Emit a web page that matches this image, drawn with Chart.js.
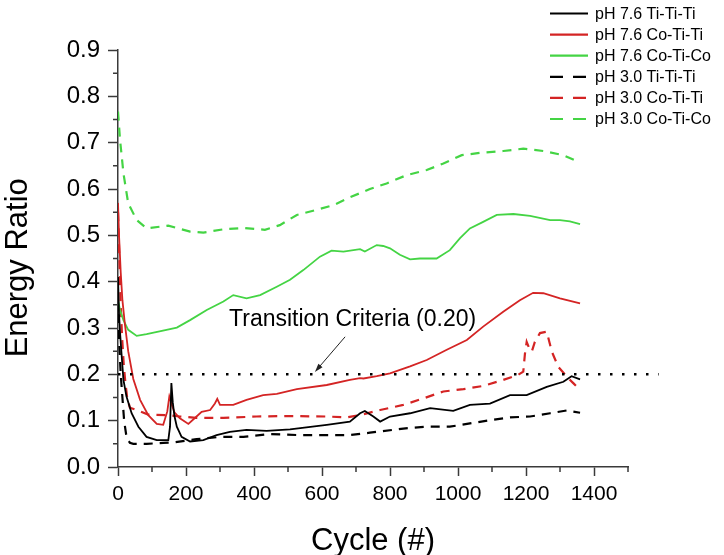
<!DOCTYPE html>
<html>
<head>
<meta charset="utf-8">
<script src="https://cdn.jsdelivr.net/npm/chart.js@4.4.1/dist/chart.umd.min.js"></script>
<style>
  html, body { margin: 0; padding: 0; background: #fff; }
</style>
</head>
<body>
<canvas id="energyChart" width="724" height="555"></canvas>
<script>
// données (cycle, rapport d'énergie)
const cycleTi76 = [0, 3, 6, 11, 16, 25, 40, 60, 84, 114, 148, 153, 157, 161, 166, 173, 187, 212, 251, 290, 329, 378, 437, 506, 614, 682, 712, 726, 751, 771, 800, 859, 918, 986, 1035, 1094, 1153, 1202, 1261, 1310, 1334, 1359];
const ratioTi76 = [0.41, 0.33, 0.29, 0.238, 0.188, 0.152, 0.116, 0.087, 0.065, 0.058, 0.058, 0.087, 0.181, 0.14, 0.11, 0.087, 0.065, 0.055, 0.058, 0.069, 0.076, 0.080, 0.078, 0.081, 0.091, 0.098, 0.116, 0.121, 0.109, 0.098, 0.109, 0.116, 0.127, 0.121, 0.134, 0.137, 0.155, 0.155, 0.173, 0.184, 0.196, 0.189];

const cycleCoTi76 = [0, 3, 8, 13, 20, 30, 45, 65, 89, 114, 133, 145, 151, 158, 166, 182, 207, 231, 246, 271, 285, 292, 300, 339, 378, 427, 467, 526, 614, 682, 712, 722, 761, 800, 859, 908, 967, 1026, 1074, 1133, 1182, 1221, 1251, 1300, 1359];
const ratioCoTi76 = [0.57, 0.50, 0.42, 0.36, 0.31, 0.25, 0.19, 0.145, 0.112, 0.093, 0.091, 0.12, 0.152, 0.135, 0.118, 0.105, 0.093, 0.109, 0.119, 0.123, 0.137, 0.147, 0.134, 0.134, 0.145, 0.155, 0.158, 0.168, 0.177, 0.188, 0.192, 0.191, 0.196, 0.202, 0.217, 0.231, 0.253, 0.274, 0.303, 0.335, 0.360, 0.376, 0.375, 0.364, 0.353];

const cycleCoCo76 = [0, 6, 16, 30, 55, 84, 129, 173, 212, 261, 310, 339, 378, 418, 467, 506, 545, 594, 628, 663, 712, 726, 761, 780, 800, 829, 859, 888, 937, 976, 1006, 1035, 1074, 1114, 1163, 1212, 1271, 1300, 1329, 1359];
const ratioCoCo76 = [0.36, 0.339, 0.317, 0.296, 0.283, 0.287, 0.294, 0.301, 0.317, 0.339, 0.357, 0.371, 0.364, 0.371, 0.389, 0.404, 0.425, 0.454, 0.467, 0.465, 0.470, 0.465, 0.479, 0.477, 0.472, 0.458, 0.448, 0.450, 0.450, 0.468, 0.494, 0.515, 0.529, 0.544, 0.546, 0.542, 0.533, 0.533, 0.530, 0.524];

const cycleTi30 = [0, 4, 8, 13, 18, 25, 35, 45, 84, 133, 163, 231, 300, 369, 447, 526, 614, 682, 741, 839, 908, 976, 1035, 1094, 1153, 1212, 1271, 1320, 1359];
const ratioTi30 = [0.33, 0.26, 0.20, 0.15, 0.10, 0.065, 0.052, 0.050, 0.050, 0.052, 0.053, 0.060, 0.065, 0.065, 0.071, 0.069, 0.069, 0.069, 0.074, 0.083, 0.087, 0.087, 0.094, 0.101, 0.107, 0.109, 0.116, 0.122, 0.117];

const cycleCoTi30 = [0, 4, 8, 12, 17, 22, 27, 35, 55, 89, 148, 182, 231, 310, 408, 506, 614, 673, 712, 771, 839, 898, 957, 1016, 1074, 1133, 1177, 1192, 1197, 1202, 1210, 1217, 1226, 1241, 1261, 1276, 1295, 1320, 1339, 1359];
const ratioCoTi30 = [0.55, 0.45, 0.35, 0.28, 0.22, 0.18, 0.15, 0.128, 0.123, 0.113, 0.112, 0.109, 0.106, 0.106, 0.109, 0.110, 0.109, 0.107, 0.112, 0.123, 0.134, 0.148, 0.163, 0.168, 0.175, 0.188, 0.199, 0.206, 0.245, 0.270, 0.255, 0.249, 0.270, 0.289, 0.292, 0.249, 0.216, 0.195, 0.181, 0.166];

const cycleCoCo30 = [0, 6, 16, 30, 55, 84, 148, 212, 251, 310, 369, 432, 476, 526, 574, 633, 682, 741, 790, 849, 908, 957, 1011, 1065, 1133, 1192, 1251, 1310, 1359];
const ratioCoCo30 = [0.767, 0.706, 0.634, 0.569, 0.533, 0.515, 0.521, 0.508, 0.506, 0.513, 0.516, 0.512, 0.522, 0.544, 0.553, 0.565, 0.582, 0.600, 0.612, 0.630, 0.641, 0.655, 0.673, 0.678, 0.682, 0.687, 0.682, 0.673, 0.657];

const seriesLabels = ['pH 7.6 Ti-Ti-Ti', 'pH 7.6 Co-Ti-Ti', 'pH 7.6 Co-Ti-Co', 'pH 3.0 Ti-Ti-Ti', 'pH 3.0 Co-Ti-Ti', 'pH 3.0 Co-Ti-Co'];

// critère de transition
const criteriaLevel = 0.2;
const criteriaSpan = [0, 1590];
const noteText = 'Transition Criteria (0.20)';
const noteAt = [690, 0.317];
const arrowFrom = [668, 0.281];
const arrowTo = [579, 0.205];

const yTitle = 'Energy Ratio';

const black = '#000000';
const red = '#d42424';
const green = '#44d444';
const axisColor = '#3a3a3a';
const fontFamily = '"Liberation Sans", Arial, sans-serif';

Chart.defaults.font.family = fontFamily;
Chart.defaults.color = '#000';

function toPoints(xs, ys) {
    return xs.map((x, i) => ({ x: x, y: ys[i] }));
}

function series(label, xs, ys, color, dashed) {
    return {
        label: label,
        data: toPoints(xs, ys),
        borderColor: color,
        borderWidth: dashed ? 2.2 : 1.8,
        borderDash: dashed ? [9, 7] : [],
        pointRadius: 0,
        tension: 0,
        fill: false,
        isDashed: dashed
    };
}

function isMajorX(v) { return Math.round(v) % 200 === 0; }
function isMajorY(v) { return Math.round(v * 100) % 10 === 0; }

// petites graduations + titre de l'axe y
const minorTicks = {
    id: 'minorTicks',
    afterDraw(chart) {
        const ctx = chart.ctx;
        const xs = chart.scales.x, ys = chart.scales.y;
        ctx.save();
        ctx.strokeStyle = axisColor;
        ctx.lineWidth = 1.5;
        ctx.beginPath();
        xs.ticks.forEach(t => {
            if (!isMajorX(t.value)) {
                const px = xs.getPixelForValue(t.value);
                ctx.moveTo(px, xs.top);
                ctx.lineTo(px, xs.top + 5);
            }
        });
        ys.ticks.forEach(t => {
            if (!isMajorY(t.value)) {
                const py = ys.getPixelForValue(t.value);
                ctx.moveTo(ys.right, py);
                ctx.lineTo(ys.right - 5, py);
            }
        });
        ctx.stroke();

        ctx.translate(18, ys.getPixelForValue(0.43));
        ctx.rotate(-Math.PI / 2);
        ctx.font = '31px ' + fontFamily;
        ctx.fillStyle = '#000';
        ctx.textAlign = 'center';
        ctx.textBaseline = 'middle';
        ctx.fillText(yTitle, 0, 0);
        ctx.restore();
    }
};

// légende en haut à droite
const cornerLegend = {
    id: 'cornerLegend',
    afterDraw(chart) {
        const ctx = chart.ctx;
        ctx.save();
        ctx.font = '16px ' + fontFamily;
        ctx.textBaseline = 'middle';
        ctx.fillStyle = '#000';
        let row = 0;
        chart.data.datasets.forEach(ds => {
            if (!seriesLabels.includes(ds.label)) return;
            const y = 13.5 + row * 21.1;
            ctx.strokeStyle = ds.borderColor;
            ctx.lineWidth = 2.2;
            ctx.setLineDash(ds.isDashed ? [13, 10] : []);
            ctx.beginPath();
            ctx.moveTo(550, y);
            ctx.lineTo(588, y);
            ctx.stroke();
            ctx.setLineDash([]);
            ctx.fillText(ds.label, 595, y + 1);
            row++;
        });
        ctx.restore();
    }
};

// texte et flèche du critère
const criteriaNote = {
    id: 'criteriaNote',
    afterDraw(chart) {
        const ctx = chart.ctx;
        const xs = chart.scales.x, ys = chart.scales.y;
        ctx.save();
        ctx.font = '23px ' + fontFamily;
        ctx.fillStyle = '#000';
        ctx.textAlign = 'center';
        ctx.textBaseline = 'middle';
        ctx.fillText(noteText, xs.getPixelForValue(noteAt[0]), ys.getPixelForValue(noteAt[1]));

        const x1 = xs.getPixelForValue(arrowFrom[0]), y1 = ys.getPixelForValue(arrowFrom[1]);
        const x2 = xs.getPixelForValue(arrowTo[0]), y2 = ys.getPixelForValue(arrowTo[1]);
        const a = Math.atan2(y2 - y1, x2 - x1);
        ctx.strokeStyle = '#222';
        ctx.lineWidth = 1;
        ctx.beginPath();
        ctx.moveTo(x1, y1);
        ctx.lineTo(x2 - 6 * Math.cos(a), y2 - 6 * Math.sin(a));
        ctx.stroke();
        ctx.fillStyle = '#222';
        ctx.beginPath();
        ctx.moveTo(x2, y2);
        ctx.lineTo(x2 - 9 * Math.cos(a - 0.3), y2 - 9 * Math.sin(a - 0.3));
        ctx.lineTo(x2 - 9 * Math.cos(a + 0.3), y2 - 9 * Math.sin(a + 0.3));
        ctx.closePath();
        ctx.fill();
        ctx.restore();
    }
};

document.addEventListener('DOMContentLoaded', () => {
    const ctx = document.getElementById('energyChart').getContext('2d');
    new Chart(ctx, {
        type: 'line',
        data: {
            datasets: [
                {
                    label: 'criteria',
                    data: criteriaSpan.map(x => ({ x: x, y: criteriaLevel })),
                    borderColor: '#000',
                    borderWidth: 2.5,
                    borderDash: [2.5, 9.5],
                    pointRadius: 0,
                    clip: false
                },
                series(seriesLabels[0], cycleTi76, ratioTi76, black, false),
                series(seriesLabels[1], cycleCoTi76, ratioCoTi76, red, false),
                series(seriesLabels[2], cycleCoCo76, ratioCoCo76, green, false),
                series(seriesLabels[3], cycleTi30, ratioTi30, black, true),
                series(seriesLabels[4], cycleCoTi30, ratioCoTi30, red, true),
                series(seriesLabels[5], cycleCoCo30, ratioCoCo30, green, true)
            ]
        },
        options: {
            responsive: false,
            animation: false,
            layout: { padding: { top: 50, right: 96, bottom: 0, left: 0 } },
            plugins: {
                legend: { display: false },
                tooltip: { enabled: false }
            },
            scales: {
                x: {
                    type: 'linear',
                    min: 0,
                    max: 1500,
                    afterFit(scale) { scale.height = 88; },
                    ticks: {
                        stepSize: 100,
                        autoSkip: false,
                        maxRotation: 0,
                        padding: 6,
                        color: '#000',
                        font: { size: 21 },
                        callback: v => isMajorX(v) && v < 1500 ? String(v) : ''
                    },
                    grid: {
                        drawOnChartArea: false,
                        tickLength: 9,
                        tickWidth: 1.5,
                        tickColor: c => isMajorX(c.tick.value) ? axisColor : 'rgba(0,0,0,0)'
                    },
                    border: { color: axisColor, width: 1.5 },
                    title: {
                        display: true,
                        text: 'Cycle (#)',
                        color: '#000',
                        font: { size: 31, lineHeight: 0.9 },
                        padding: { top: 0, bottom: 0 }
                    }
                },
                y: {
                    type: 'linear',
                    min: 0,
                    max: 0.9,
                    afterFit(scale) { scale.width = 118; },
                    ticks: {
                        stepSize: 0.05,
                        autoSkip: false,
                        padding: 8,
                        color: '#000',
                        font: { size: 24 },
                        callback: v => isMajorY(v) ? v.toFixed(1) : ''
                    },
                    grid: {
                        drawOnChartArea: false,
                        tickLength: 10,
                        tickWidth: 1.5,
                        tickColor: c => isMajorY(c.tick.value) ? axisColor : 'rgba(0,0,0,0)'
                    },
                    border: { color: axisColor, width: 1.5 }
                }
            }
        },
        plugins: [minorTicks, cornerLegend, criteriaNote]
    });
});
</script>
</body>
</html>
